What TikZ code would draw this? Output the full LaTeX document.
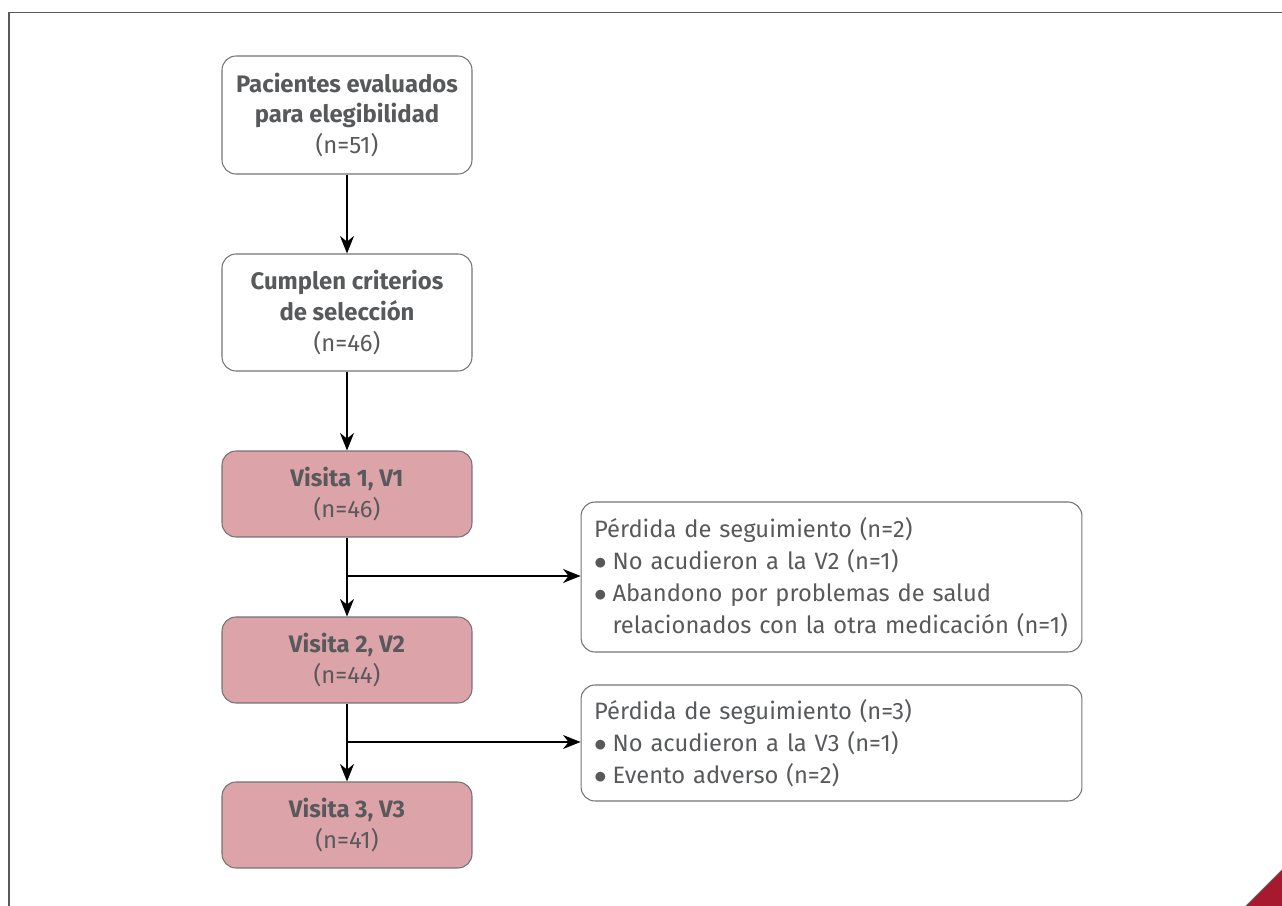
\documentclass[tikz,border=0pt]{standalone}
\usepackage{fontspec}
\setmainfont{Fira Sans}
\usepackage{tikz}
\usetikzlibrary{arrows.meta}
\definecolor{txtgray}{HTML}{58595B}
\definecolor{visitfill}{HTML}{DCA3A9}
\definecolor{cornerred}{HTML}{A6192E}
\tikzset{x=0.02cm, y=-0.02cm,
  flow box/.style={draw=black!55, line width=0.6pt, rounded corners=0.28cm,
      text=txtgray, align=center, minimum width=5cm, inner sep=0pt,
      font=\fontsize{13.6}{17.5}\selectfont},
  visit box/.style={flow box, fill=visitfill, minimum height=1.72cm},
  loss box/.style={draw=black!55, line width=0.6pt, rounded corners=0.28cm,
      text=txtgray, align=left, minimum width=10.02cm, text width=9.5cm,
      inner xsep=0.26cm, font=\fontsize{13.5}{18.2}\selectfont},
  flow arrow/.style={line width=0.75pt, -{Stealth[length=10pt,width=8pt]}}
}
\def\lossbullet{\makebox[0.78em][l]{$\bullet$}}
\def\losspad{\hspace*{0.78em}}
\begin{document}
\begin{tikzpicture}
\useasboundingbox (0,0) rectangle (1282,906);
% frame and corner
\draw[black!65, line width=1.1pt] (9,906) -- (9,12.5) -- (1282,12.5);
\fill[cornerred] (1246,906) -- (1282,870) -- (1282,906) -- cycle;
\draw[black!60, line width=0.5pt] (1246,906) -- (1282,870);
% main column
\node (eval) [flow box, minimum height=2.36cm] at (347,115)
  {\textbf{Pacientes evaluados}\\ \textbf{para elegibilidad}\\ (n=51)};
\node (sel) [flow box, minimum height=2.34cm] at (347,312.5)
  {\textbf{Cumplen criterios}\\ \textbf{de selección}\\ (n=46)};
\node (vone) [visit box] at (347,494) {\textbf{Visita 1, V1}\\ (n=46)};
\node (vtwo) [visit box] at (347,660) {\textbf{Visita 2, V2}\\ (n=44)};
\node (vthree) [visit box] at (347,825) {\textbf{Visita 3, V3}\\ (n=41)};
% losses
\node (lossone) [loss box, minimum height=3cm] at (831.5,577)
  {Pérdida de seguimiento (n=2)\\
   \lossbullet No acudieron a la V2 (n=1)\\
   \lossbullet Abandono por problemas de salud\\
   \mbox{\losspad relacionados con la otra medicación (n=1)}};
\node (losstwo) [loss box, minimum height=2.32cm] at (831.5,743)
  {Pérdida de seguimiento (n=3)\\
   \lossbullet No acudieron a la V3 (n=1)\\
   \lossbullet Evento adverso (n=2)};
\coordinate (jone) at (347,576);
\coordinate (jtwo) at (347,742);
% connectors
\draw[flow arrow] (eval) -- (sel);
\draw[flow arrow] (sel) -- (vone);
\draw[flow arrow] (vone) -- (vtwo);
\draw[flow arrow] (vtwo) -- (vthree);
\draw[flow arrow] (jone) -- (jone -| lossone.west);
\draw[flow arrow] (jtwo) -- (jtwo -| losstwo.west);
\end{tikzpicture}
\end{document}
